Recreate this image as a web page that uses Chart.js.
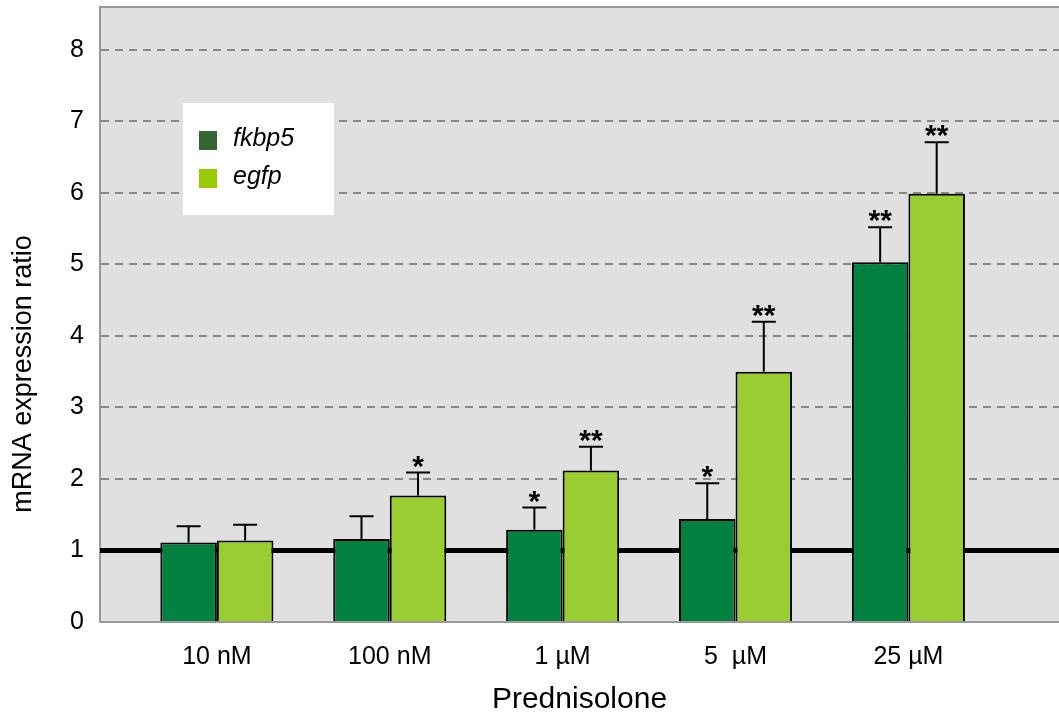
<!DOCTYPE html>
<html>
<head>
<meta charset="utf-8">
<script src="https://cdn.jsdelivr.net/npm/chart.js@4.4.0/dist/chart.umd.min.js"></script>
<style>
  html, body { margin: 0; padding: 0; background: #fff; }
</style>
</head>
<body>
<canvas id="chart" width="1059" height="722"></canvas>
<script>
// values
const categories = ['10 nM', '100 nM', '1 µM', '5  µM', '25 µM'];
const fkbp5Values = [1.11, 1.16, 1.29, 1.44, 5.03];
const fkbp5Errors = [0.23, 0.32, 0.31, 0.50, 0.49];
const fkbp5Stars = ['', '', '*', '*', '**'];
const egfpValues = [1.14, 1.77, 2.12, 3.50, 5.99];
const egfpErrors = [0.22, 0.32, 0.33, 0.70, 0.72];
const egfpStars = ['', '*', '**', '**', '**'];
const yTicks = [0, 1, 2, 3, 4, 5, 6, 7, 8];
const controlLevel = 1;

const FONT = "'Liberation Sans', Arial, sans-serif";

const errors = [fkbp5Errors, egfpErrors];
const stars = [fkbp5Stars, egfpStars];
const legendSwatch = ['#336633', '#99CC00'];

const decor = {
    id: 'decor',
    beforeDraw: function(chart) {
        const a = chart.chartArea, ctx = chart.ctx;
        ctx.save();
        ctx.fillStyle = '#E0E0E0';
        ctx.fillRect(a.left, a.top, a.right - a.left, a.bottom - a.top);
        ctx.restore();
    },
    beforeDatasetsDraw: function(chart) {
        // thick reference line at ratio = 1
        const a = chart.chartArea, ctx = chart.ctx;
        const y = chart.scales.y.getPixelForValue(controlLevel);
        ctx.save();
        ctx.strokeStyle = '#000';
        ctx.lineWidth = 5;
        ctx.beginPath();
        ctx.moveTo(a.left, y);
        ctx.lineTo(a.right, y);
        ctx.stroke();
        ctx.restore();
    },
    afterDatasetsDraw: function(chart) {
        const ctx = chart.ctx, ys = chart.scales.y, a = chart.chartArea;
        ctx.save();
        // top border of the plot
        ctx.strokeStyle = '#999';
        ctx.lineWidth = 2;
        ctx.beginPath();
        ctx.moveTo(a.left, a.top);
        ctx.lineTo(a.right, a.top);
        ctx.stroke();

        chart.data.datasets.forEach((ds, d) => {
            const meta = chart.getDatasetMeta(d);
            meta.data.forEach((bar, i) => {
                const v = ds.data[i].y;
                const top = ys.getPixelForValue(v + errors[d][i]);
                ctx.strokeStyle = '#000';
                ctx.lineWidth = 2;
                ctx.beginPath();
                ctx.moveTo(bar.x, bar.y);
                ctx.lineTo(bar.x, top);
                ctx.moveTo(bar.x - 12, top);
                ctx.lineTo(bar.x + 12, top);
                ctx.stroke();
                if (stars[d][i]) {
                    ctx.fillStyle = '#000';
                    ctx.font = 'bold 30px ' + FONT;
                    ctx.textAlign = 'center';
                    ctx.textBaseline = 'alphabetic';
                    ctx.fillText(stars[d][i], bar.x, top + 3);
                }
            });
        });
        ctx.restore();
    },
    afterDraw: function(chart) {
        const ctx = chart.ctx;
        ctx.save();
        // y axis title
        ctx.fillStyle = '#000';
        ctx.font = '27px ' + FONT;
        ctx.textAlign = 'center';
        ctx.textBaseline = 'middle';
        ctx.translate(24, 374);
        ctx.rotate(-Math.PI / 2);
        ctx.fillText('mRNA expression ratio', 0, 0);
        ctx.restore();

        // legend box
        ctx.save();
        ctx.fillStyle = '#fff';
        ctx.fillRect(183, 103, 151, 112);
        chart.data.datasets.forEach((ds, d) => {
            const y = 131 + d * 38;
            ctx.fillStyle = legendSwatch[d];
            ctx.fillRect(199, y, 18, 19);
            ctx.fillStyle = '#000';
            ctx.font = 'italic 25px ' + FONT;
            ctx.textAlign = 'left';
            ctx.textBaseline = 'alphabetic';
            ctx.fillText(ds.label, 233, y + 15);
        });
        ctx.restore();
    }
};

const toPoints = vals => vals.map((v, i) => ({ x: i, y: v }));

new Chart(document.getElementById('chart'), {
    type: 'bar',
    data: {
        datasets: [{
            label: 'fkbp5',
            data: toPoints(fkbp5Values),
            backgroundColor: '#038141',
            borderColor: '#000',
            borderWidth: 2,
            categoryPercentage: 0.654,
            barPercentage: 1.0
        }, {
            label: 'egfp',
            data: toPoints(egfpValues),
            backgroundColor: '#9ACD32',
            borderColor: '#000',
            borderWidth: 2,
            categoryPercentage: 0.654,
            barPercentage: 1.0
        }]
    },
    options: {
        responsive: false,
        animation: false,
        layout: { padding: { top: 7, right: 0, left: 0, bottom: 0 } },
        plugins: {
            legend: { display: false },
            tooltip: { enabled: false }
        },
        scales: {
            x: {
                type: 'linear',
                offset: false,
                min: -0.676,
                max: 4.871,
                afterBuildTicks: s => { s.ticks = categories.map((c, i) => ({ value: i })); },
                afterFit: s => { s.height = 100; s.paddingLeft = 0; s.paddingRight = 0; },
                grid: { display: false, drawTicks: false },
                border: { display: true, color: '#999', width: 2 },
                ticks: {
                    padding: 20,
                    color: '#000',
                    font: { family: FONT, size: 25 },
                    callback: v => categories[v]
                },
                title: {
                    display: true,
                    text: 'Prednisolone',
                    color: '#000',
                    font: { family: FONT, size: 30 },
                    padding: { top: 0, bottom: 4 }
                }
            },
            y: {
                min: 0,
                max: 8.6,
                afterBuildTicks: s => { s.ticks = yTicks.map(v => ({ value: v })); },
                afterFit: s => { s.width = 100; s.paddingTop = 0; s.paddingBottom = 0; },
                grid: { color: '#888', lineWidth: 2, drawTicks: false },
                border: { display: true, color: '#999', width: 2, dash: [8, 6] },
                ticks: {
                    padding: 16,
                    color: '#000',
                    font: { family: FONT, size: 25 }
                }
            }
        }
    },
    plugins: [decor]
});
</script>
</body>
</html>
